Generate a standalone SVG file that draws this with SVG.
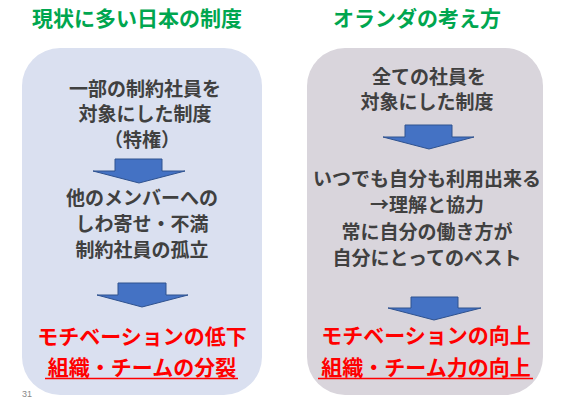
<svg xmlns="http://www.w3.org/2000/svg" width="567" height="403" viewBox="0 0 567 403">
<style>
text{font-family:"Noto Sans CJK JP","Noto Sans",sans-serif;font-weight:bold;text-anchor:middle}
.t{fill:#00A64F;font-size:21px}
.b{fill:#404040;font-size:19px}
.r{fill:#FF0000;font-size:21px}
.arr{fill:#4472C4;stroke:#2F528F;stroke-width:1}
.ul{stroke:#FF0000;stroke-width:1.6}
</style>
<rect width="567" height="403" fill="#FFFFFF"/>
<g id="title-left"><text class="t" x="137" y="26">現状に多い日本の制度</text></g>
<g id="title-right"><text class="t" x="417" y="26">オランダの考え方</text></g>
<g id="box-left">
<rect x="22" y="48" width="240" height="347" rx="38" fill="#DAE0F0"/>
<text class="b" x="145" y="96">一部の制約社員を</text>
<text class="b" x="145" y="121">対象にした制度</text>
<text class="b" x="142" y="147">（特権）</text>
<text class="b" x="142" y="205">他のメンバーへの</text>
<text class="b" x="142" y="231">しわ寄せ・不満</text>
<text class="b" x="142" y="257">制約社員の孤立</text>
<text class="r" x="142" y="344">モチベーションの低下</text>
<text class="r" x="142" y="375">組織・チームの分裂</text>
<line class="ul" x1="45" y1="378.5" x2="238" y2="378.5"/>
</g>
<g id="box-right">
<rect x="307" y="48" width="236" height="347" rx="38" fill="#D9D5DC"/>
<text class="b" x="429" y="84">全ての社員を</text>
<text class="b" x="427" y="109">対象にした制度</text>
<text class="b" x="427" y="186">いつでも自分も利用出来る</text>
<text class="b" x="427" y="212">→理解と協力</text>
<text class="b" x="427" y="239">常に自分の働き方が</text>
<text class="b" x="427" y="265">自分にとってのベスト</text>
<text class="r" x="426" y="343">モチベーションの向上</text>
<text class="r" x="426" y="375">組織・チーム力の向上</text>
<line class="ul" x1="318" y1="378.5" x2="533" y2="378.5"/>
</g>
<g id="connectors">
<polygon class="arr" points="115,159 162,159 162,171 185,171 139,183 93,171 115,171"/>
<polygon class="arr" points="118,283 166,283 166,295 188,295 142,307 97,295 118,295"/>
<polygon class="arr" points="405,125 452,125 452,137 474,137 429,149 383,137 405,137"/>
<polygon class="arr" points="411,297 458,297 458,308 481,308 434,320 388,308 411,308"/>
</g>
<text x="27" y="397" style="font-family:'Liberation Sans',sans-serif;font-weight:normal;font-size:9px;fill:#888888">31</text>
</svg>
